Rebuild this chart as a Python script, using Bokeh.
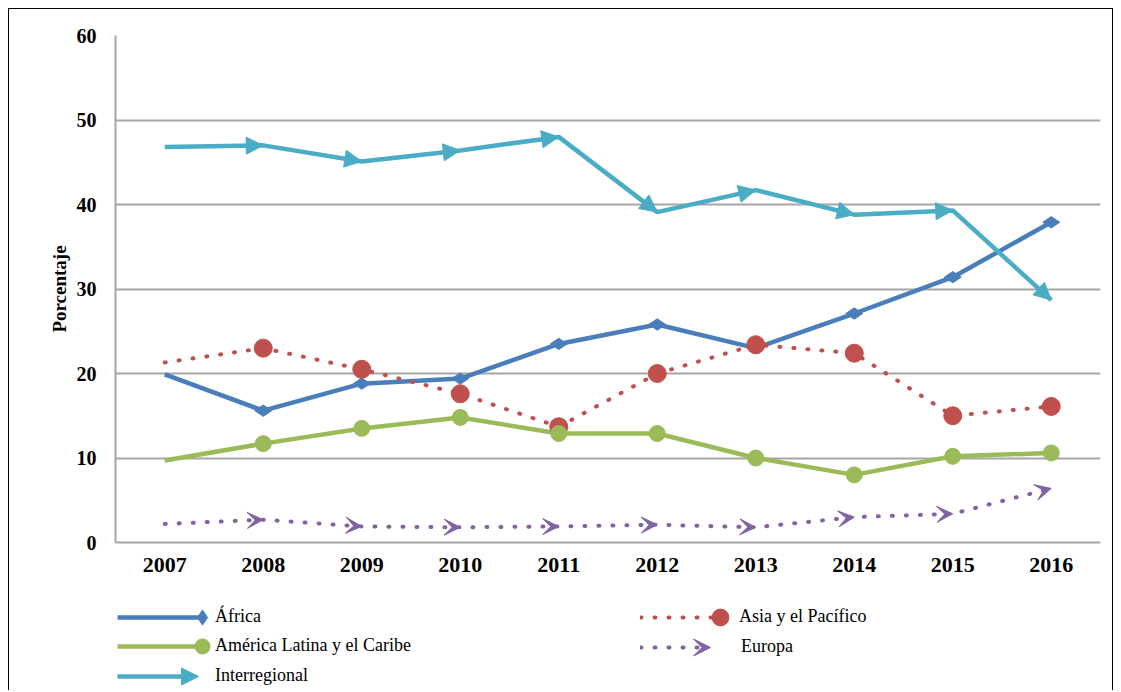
import math
from bokeh.plotting import figure
from bokeh.layouts import column, row
from bokeh.models import (ColumnDataSource, Range1d, FixedTicker, Legend, LegendItem,
                          Arrow, NormalHead, VeeHead, Spacer)
from bokeh.embed import file_html
from bokeh.resources import INLINE

# ---------------- data ----------------
years = [2007, 2008, 2009, 2010, 2011, 2012, 2013, 2014, 2015, 2016]
africa = [19.9, 15.6, 18.8, 19.4, 23.5, 25.8, 23.0, 27.1, 31.4, 37.9]
asia = [21.3, 23.0, 20.5, 17.6, 13.7, 20.0, 23.4, 22.4, 15.0, 16.1]
america = [9.7, 11.7, 13.5, 14.8, 12.9, 12.9, 10.0, 8.0, 10.2, 10.6]
europa = [2.2, 2.7, 1.9, 1.8, 1.9, 2.1, 1.8, 3.0, 3.4, 6.4]
interregional = [46.8, 47.0, 45.1, 46.4, 48.0, 39.1, 41.7, 38.8, 39.3, 28.7]
y_ticks = [0, 10, 20, 30, 40, 50, 60]

labels = ["África", "Asia y el Pacífico", "América Latina y el Caribe", "Europa", "Interregional"]
c_africa = "#4A7EBB"
c_asia = "#C0504D"
c_america = "#9BBB59"
c_europa = "#8064A2"
c_inter = "#4BACC6"

FONT = "Liberation Serif"
LW = 4.5
DOT = "1 13"

p = figure(width=1105, height=582, output_backend="svg", toolbar_location=None,
           x_range=Range1d(2006.5, 2016.5), y_range=Range1d(0, 60),
           min_border_left=107, min_border_top=27, min_border_right=13, min_border_bottom=48)
p.outline_line_color = None
p.background_fill_color = None
p.border_fill_color = None

p.xaxis.ticker = FixedTicker(ticks=years)
p.yaxis.ticker = FixedTicker(ticks=y_ticks)
for ax in (p.xaxis, p.yaxis):
    ax.axis_line_color = "#A6A6A6"
    ax.axis_line_width = 2
    ax.major_tick_line_color = None
    ax.minor_tick_line_color = None
    ax.major_label_text_font = FONT
    ax.major_label_text_font_style = "bold"
    ax.major_label_text_color = "#000000"
p.xaxis.major_label_text_font_size = "22px"
p.xaxis.major_label_standoff = 9
p.yaxis.major_label_text_font_size = "20px"
p.yaxis.major_label_standoff = 13
p.yaxis.axis_label = "Porcentaje"
p.yaxis.axis_label_text_font = FONT
p.yaxis.axis_label_text_font_style = "bold"
p.yaxis.axis_label_text_font_size = "19px"
p.yaxis.axis_label_text_color = "#000000"
p.yaxis.axis_label_standoff = 4

p.xgrid.grid_line_color = None
p.ygrid.grid_line_color = "#A6A6A6"
p.ygrid.grid_line_width = 2

# ---- lines ----
p.line(years, africa, line_color=c_africa, line_width=LW)
p.line(years, asia, line_color=c_asia, line_width=4, line_dash=DOT, line_cap="round")
p.line(years, america, line_color=c_america, line_width=LW)
p.line(years, europa, line_color=c_europa, line_width=4, line_dash=DOT, line_cap="round")
p.line(years, interregional, line_color=c_inter, line_width=LW)

# ---- markers at segment ends ----
p.scatter(years[1:], africa[1:], marker="diamond", size=17, angle=math.pi / 2,
          fill_color=c_africa, line_color=c_africa)
p.scatter(years[1:], asia[1:], marker="circle", size=18, fill_color=c_asia, line_color=c_asia)
p.scatter(years[1:], america[1:], marker="circle", size=16, fill_color=c_america, line_color=c_america)

def arrows(vals, head):
    src = ColumnDataSource(dict(x0=years[:-1], y0=vals[:-1], x1=years[1:], y1=vals[1:]))
    p.add_layout(Arrow(x_start="x0", y_start="y0", x_end="x1", y_end="y1", source=src,
                       line_alpha=0, start=None, end=head))

arrows(interregional, NormalHead(size=17, fill_color=c_inter, line_color=c_inter))
arrows(europa, VeeHead(size=16, fill_color=c_europa, line_color=c_europa))

# ---------------- legend figure ----------------
# Its frame is aligned with the chart frame (page x 115..1100) and spans page y 590..691,
# so its ranges are set to page pixels for laying out the legend keys.
LH = 101
FX0, FX1 = 115, 1100
TOP = 590
lf = figure(width=1105, height=LH, output_backend="svg", toolbar_location=None,
            x_range=Range1d(FX0, FX1), y_range=Range1d(TOP + LH, TOP),
            x_axis_location=None, y_axis_location=None,
            min_border=0, min_border_left=0, min_border_right=0, min_border_top=0, min_border_bottom=0)
lf.grid.visible = False
lf.outline_line_color = None
lf.background_fill_color = None
lf.border_fill_color = None

nan = float("nan")
def dummy_line(color, dash=None, w=LW):
    kw = dict(line_color=color, line_width=w)
    if dash:
        kw.update(line_dash=dash, line_cap="round")
    return lf.line([nan], [nan], **kw)

def dummy_marker(marker, color):
    return lf.scatter([nan], [nan], marker=marker, fill_color=color, line_color=color)

def key(line_r, label, x0, length, standoff, yc, marker_r=None, msize=15, head=None):
    # x0, yc in page pixels
    lg = Legend(items=[LegendItem(label=label, renderers=[line_r])],
                location=(x0 - FX0, LH - (yc - TOP) - 10), orientation="vertical",
                glyph_width=length, glyph_height=20, label_height=20, spacing=0,
                label_standoff=standoff, padding=0, margin=0,
                label_text_font=FONT, label_text_font_size="18px", label_text_color="#000000",
                border_line_alpha=0, background_fill_alpha=0)
    lf.add_layout(lg, "center")
    if marker_r is not None:
        b = int(round(msize / 0.4))
        lm = Legend(items=[LegendItem(label=" ", renderers=[marker_r])],
                    location=(int(round(x0 - FX0 + length - b / 2)),
                              int(round(LH - (yc - TOP) - b / 2))),
                    orientation="vertical",
                    glyph_width=b, glyph_height=b, label_height=10, spacing=0,
                    label_standoff=0, label_width=1, padding=0, margin=0,
                    label_text_font_size="1px",
                    border_line_alpha=0, background_fill_alpha=0)
        lf.add_layout(lm, "center")
    if head is not None:
        tip = x0 + length + 8
        lf.add_layout(Arrow(x_start=tip - 20, y_start=yc, x_end=tip, y_end=yc,
                            line_alpha=0, start=None, end=head))

key(dummy_line(c_africa), labels[0], 117, 85, 13, 617, dummy_marker("diamond", c_africa), 15)
key(dummy_line(c_america), labels[2], 117, 85, 13, 646, dummy_marker("circle", c_america), 15)
key(dummy_line(c_inter), labels[4], 117, 73, 25, 676,
    head=NormalHead(size=17, fill_color=c_inter, line_color=c_inter))
key(dummy_line(c_asia, DOT, 4), labels[1], 640, 80, 19, 617, dummy_marker("circle", c_asia), 17)
key(dummy_line(c_europa, DOT, 4), labels[3], 640, 62, 39, 647,
    head=VeeHead(size=17, fill_color=c_europa, line_color=c_europa))

box = column(p, lf, spacing=0)
box.styles = {"outline": "1px solid #000000", "outline-offset": "-1px",
              "background-color": "#ffffff", "clip-path": "inset(0px 0px 1px 0px)"}
layout = column(Spacer(height=8), row(Spacer(width=8), box, spacing=0), spacing=0)

open("out.html", "w").write(file_html(layout, INLINE))
